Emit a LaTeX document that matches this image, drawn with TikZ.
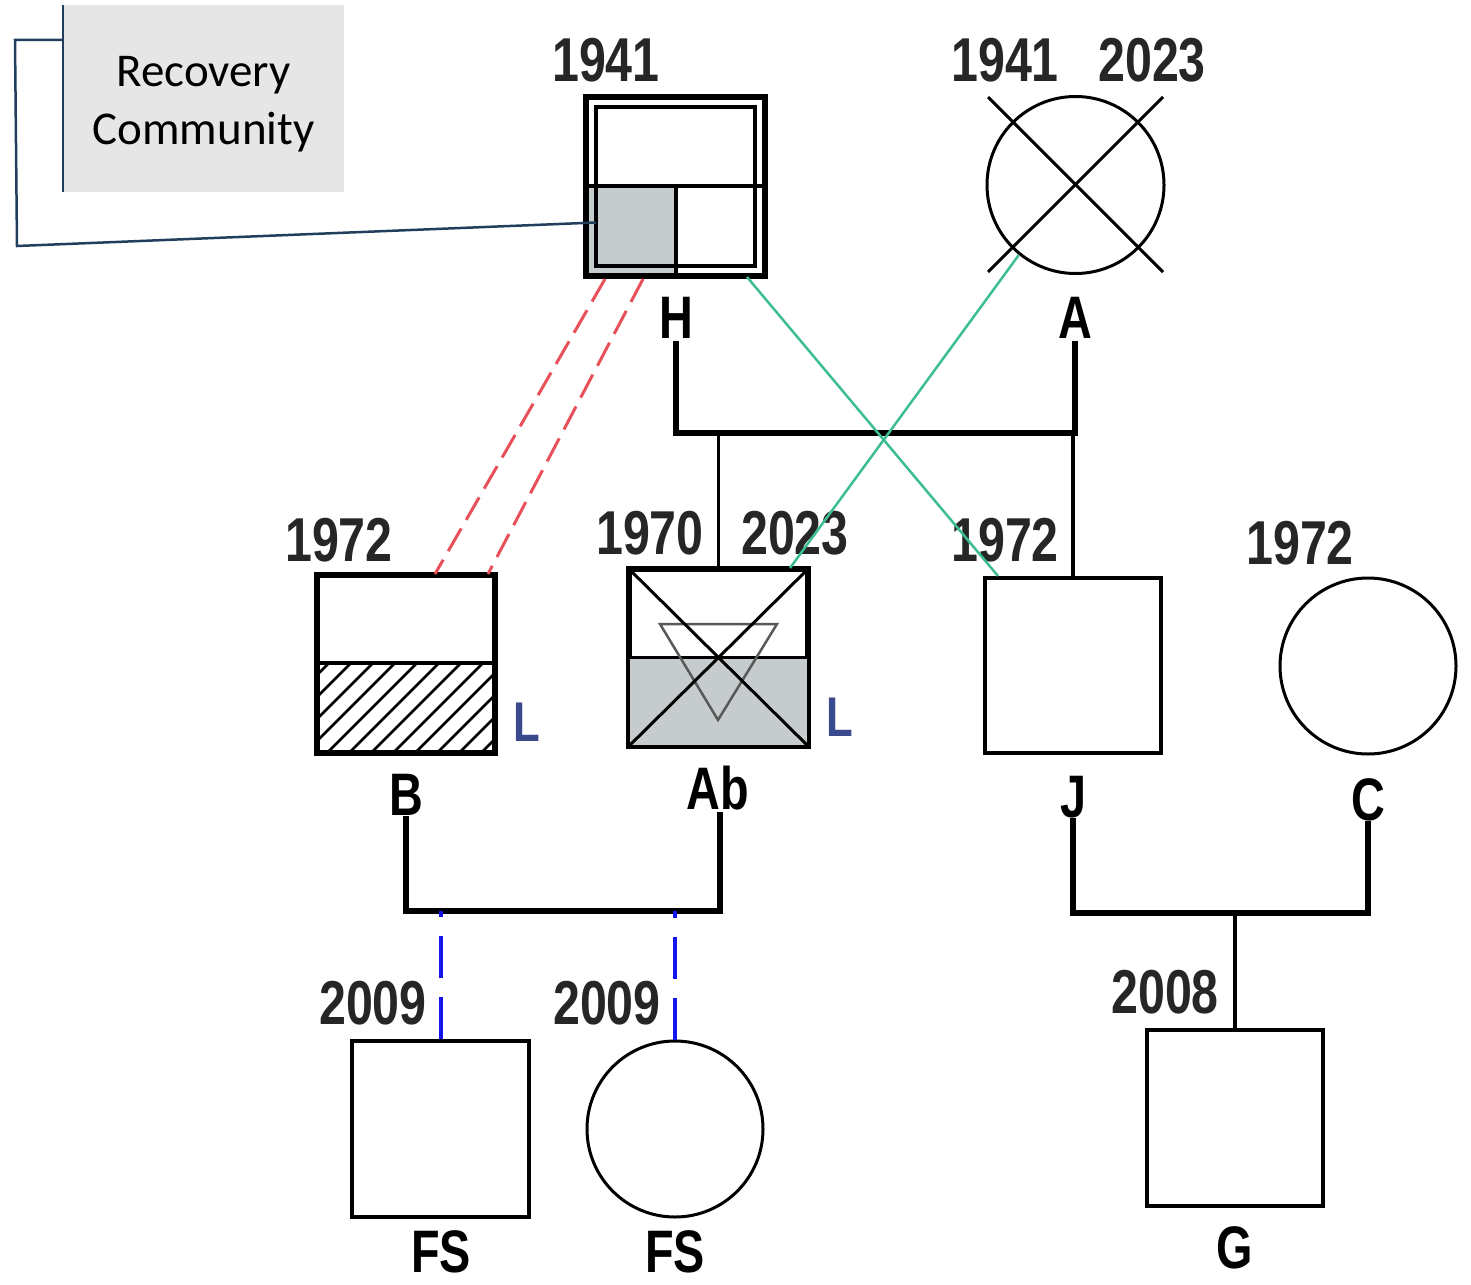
\documentclass[tikz,border=0pt]{standalone}
\usepackage{fontspec}
\newfontfamily\labfont[FakeStretch=0.78]{Liberation Sans}
\newfontfamily\boxfont{Carlito}
\usetikzlibrary{calc}
\definecolor{navy}{HTML}{1F3F5C}
\definecolor{boxgray}{HTML}{E6E6E6}
\definecolor{shadegray}{HTML}{C6CCCD}
\definecolor{mygreen}{HTML}{3DBE8F}
\definecolor{myred}{HTML}{E8505A}
\definecolor{myblue}{HTML}{1414EE}
\definecolor{lblue}{HTML}{3A4A8C}
\tikzset{
  person/.style={draw, line width=4pt, inner sep=0pt, minimum size=176pt},
  sqp/.style={person, rectangle},
  cip/.style={person, circle},
  yr/.style={font=\labfont\bfseries\fontsize{62}{62}\selectfont, inner sep=0pt, text=black!85},
  nm/.style={font=\labfont\bfseries\fontsize{60}{60}\selectfont, inner sep=0pt, text=black},
  lmark/.style={font=\labfont\bfseries\fontsize{56}{56}\selectfont, inner sep=0pt, text=lblue},
  couple/.style={line width=6pt, line cap=rect},
  childline/.style={line width=3.5pt},
  emo/.style={mygreen, line width=2.5pt},
  conflict/.style={myred, line width=3pt, dash pattern=on 26pt off 10pt},
  foster/.style={myblue, line width=4pt, dash pattern=on 42pt off 19pt},
  rcbox/.style={fill=boxgray, minimum width=281pt, minimum height=187pt, inner sep=0pt},
  rctext/.style={align=center, inner sep=0pt, font=\boxfont\fontsize{47}{58}\selectfont},
  rcline/.style={navy, line width=2.5pt},
}
\begin{document}
\begin{tikzpicture}[x=1pt,y=-1pt]
\useasboundingbox (0,0) rectangle (1471,1284);

% Recovery community box
\node[rcbox] (rc) at (203.5,98.5) {};
\node[rctext] (rct) at ($(rc.center)+(0,6)$) {Recovery\\Community};
\draw[rcline] (rc.north west) -- (rc.south west);

% ---------- H ----------
\node[sqp, minimum size=177pt] (H) at (675.5,186.5) {};
\fill[shadegray] (589,186) rectangle (676,273);
\draw[line width=3.5pt] (596,107) rectangle (755,266);
\draw[line width=3.5pt] (H.west |- 0,186) -- (H.east |- 0,186);
\draw[line width=3.5pt] (676,186) -- (676,275);
\draw[line width=4pt] (H.north west) rectangle (H.south east);
\node[yr] (Hy) at (606,60) {1941};
\node[nm] (Hn) at (676,318) {H};

% ---------- A ----------
\node[cip, minimum size=177pt, line width=3pt] (A) at (1075.5,185) {};
\draw[line width=3pt] (988,97) -- (1163,272);
\draw[line width=3pt] (988,272) -- (1163,97);
\node[yr] (Ay1) at (1005,60) {1941};
\node[yr] (Ay2) at (1152,60) {2023};
\node[nm] (An) at (1075,318) {A};

% ---------- B ----------
\node[sqp] (B) at (406,664) {};
\begin{scope}
  \clip (318,663) rectangle (494,752);
  \foreach \k in {0,...,14} {
    \draw[line width=2.5pt] (318+\k*22-100,752) -- (318+\k*22,652);
  }
\end{scope}
\draw[line width=3.5pt] (B.west |- 0,663) -- (B.east |- 0,663);
\draw[line width=4pt] (B.north west) rectangle (B.south east);
\node[yr] (By) at (339,540) {1972};
\node[lmark] (BL) at (527,722) {L};
\node[nm] (Bn) at (406,795) {B};

% ---------- Ab ----------
\node[sqp, minimum width=177pt, minimum height=175pt] (Ab) at (718.5,657.5) {};
\fill[shadegray] (Ab.west |- 0,657) rectangle (Ab.south east);
\draw[line width=3pt] (Ab.west |- 0,657) -- (Ab.east |- 0,657);
\draw[black!65, line width=2.5pt, line join=miter] (660,624) -- (777,624) -- (718,720) -- cycle;
\draw[line width=3pt] (Ab.north west) -- (Ab.south east);
\draw[line width=3pt] (Ab.south west) -- (Ab.north east);
\draw[line width=4pt] (Ab.north west) rectangle (Ab.south east);
\node[yr] (Aby1) at (650,533) {1970};
\node[yr] (Aby2) at (795,533) {2023};
\node[lmark] (AbL) at (840,717) {L};
\node[nm] (Abn) at (718,788) {Ab};

% ---------- J ----------
\node[sqp, minimum height=175pt] (J) at (1073,665.5) {};
\node[yr] (Jy) at (1005,540) {1972};
\node[nm] (Jn) at (1073,797) {J};

% ---------- C ----------
\node[cip, line width=3pt] (C) at (1368,666) {};
\node[yr] (Cy) at (1300,543) {1972};
\node[nm] (Cn) at (1368,800) {C};

% ---------- children ----------
\node[sqp, minimum width=177pt] (FS1) at (440.5,1129) {};
\node[yr] (FS1y) at (373,1003) {2009};
\node[nm] (FS1n) at (441,1252) {FS};

\node[cip, line width=3pt] (FS2) at (675,1129) {};
\node[yr] (FS2y) at (607,1003) {2009};
\node[nm] (FS2n) at (675,1252) {FS};

\node[sqp] (G) at (1235,1118) {};
\node[yr] (Gy) at (1165,992) {2008};
\node[nm] (Gn) at (1235,1248) {G};

% ---------- junction coordinates ----------
\coordinate (ha) at (0,433);
\coordinate (bab) at (0,911);
\coordinate (jc) at (0,913);
\coordinate (rcb1) at (15,40);
\coordinate (rcb2) at (17,246);

% ---------- relationship lines ----------
\draw[couple] ($(Hn.south)+(0,5)$) -- (Hn.south |- ha) -- (An.south |- ha) -- ($(An.south)+(0,5)$);
\draw[childline] (Ab.north) -- (Ab.north |- ha);
\draw[childline] (J.north) -- (J.north |- ha);

\draw[couple] ($(Bn.south)+(0,3)$) -- (Bn.south |- bab) -- (720,911) -- (720,815);
\draw[foster] (FS1.north) -- (FS1.north |- bab);
\draw[foster] (FS2.north) -- (FS2.north |- bab);

\draw[couple] ($(Jn.south)+(0,3)$) -- (Jn.south |- jc) -- (Cn.south |- jc) -- ($(Cn.south)+(0,3)$);
\draw[childline] (G.north) -- (G.north |- jc);

% emotional / conflict lines
\draw[emo] ($(H.south east)+(-19,0)$) -- ($(J.north west)+(15,0)$);
\draw[emo] (A.-129) -- ($(Ab.north east)+(-19,0)$);
\draw[conflict] ($(H.south west)+(20,2)$) -- ($(B.north west)+(119,0)$);
\draw[conflict] ($(H.south west)+(58,2)$) -- ($(B.north west)+(172,0)$);

% recovery connector
\draw[rcline, line join=miter] ($(rc.north west)+(0,35)$) -- (rcb1) -- (rcb2) -- ($(H.west)+(11,36)$);
\end{tikzpicture}
\end{document}
